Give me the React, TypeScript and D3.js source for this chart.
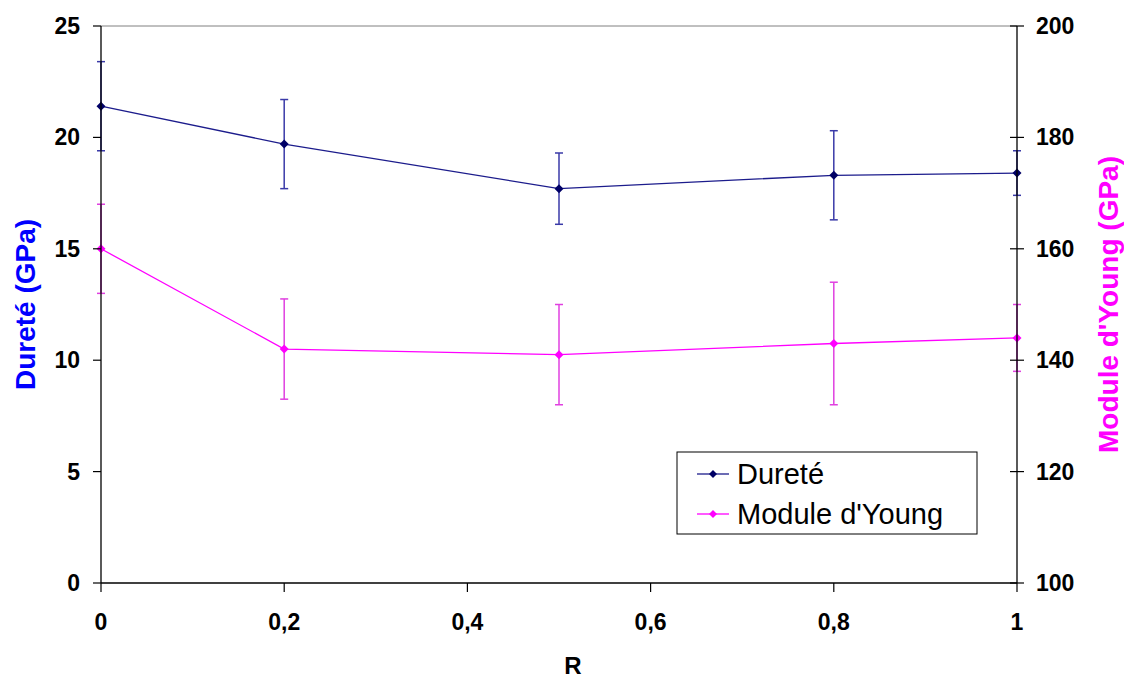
import React from "react";
import * as d3 from "d3";

const rValues = [0, 0.2, 0.5, 0.8, 1];
const durete = [21.4, 19.7, 17.7, 18.3, 18.4];
const dureteErr = [2.0, 2.0, 1.6, 2.0, 1.0];
const young = [160, 142, 141, 143, 144];
const youngErr = [8, 9, 9, 11, 6];
const xTicks = [0, 0.2, 0.4, 0.6, 0.8, 1];
const leftTicks = [0, 5, 10, 15, 20, 25];
const rightTicks = [100, 120, 140, 160, 180, 200];

const W = 1124, H = 680;
const L = 101, R = 1017, T = 26, B = 583;
const FONT = "'Liberation Sans', Arial, sans-serif";
const BLUE_LINE = "#1c1c8c";
const BLUE_MARK = "#000066";
const BLUE_ERR = "#3a3aa8";
const MAG = "#ff00ff";
const MAG_ERR = "#e040e0";

export default function App() {
  const x = d3.scaleLinear().domain([0, 1]).range([L, R]);
  const yL = d3.scaleLinear().domain([0, 25]).range([B, T]);
  const yR = d3.scaleLinear().domain([100, 200]).range([B, T]);
  const fmt = (v: number) => String(v).replace(".", ",");

  const lineL = d3.line<number>().x((_, i) => x(rValues[i])).y((d) => yL(d));
  const lineR = d3.line<number>().x((_, i) => x(rValues[i])).y((d) => yR(d));
  const diamond = (cx: number, cy: number, s: number) =>
    `M${cx},${cy - s}L${cx + s},${cy}L${cx},${cy + s}L${cx - s},${cy}Z`;

  const errBars = (
    vals: number[],
    errs: number[],
    y: d3.ScaleLinear<number, number>,
    color: string
  ) =>
    vals.map((v, i) => {
      const cx = x(rValues[i]);
      const y1 = y(v + errs[i]);
      const y2 = y(v - errs[i]);
      return (
        <g key={i} stroke={color} strokeWidth={1.5}>
          <line x1={cx} x2={cx} y1={y1} y2={y2} />
          <line x1={cx - 4} x2={cx + 4} y1={y1} y2={y1} />
          <line x1={cx - 4} x2={cx + 4} y1={y2} y2={y2} />
        </g>
      );
    });

  const midY = (T + B) / 2;

  return (
    <svg
      width={W}
      height={H}
      style={{ position: "absolute", left: 0, top: 0, background: "#fff" }}
      fontFamily={FONT}
    >
      <rect x={0} y={0} width={W} height={H} fill="#fff" />
      <line x1={L} x2={R} y1={T} y2={T} stroke="#808080" strokeWidth={1} />
      {errBars(young, youngErr, yR, MAG_ERR)}
      {errBars(durete, dureteErr, yL, BLUE_ERR)}
      <path d={lineR(young) || ""} fill="none" stroke={MAG} strokeWidth={1.3} />
      <path d={lineL(durete) || ""} fill="none" stroke={BLUE_LINE} strokeWidth={1.3} />
      {young.map((v, i) => (
        <path key={"m" + i} d={diamond(x(rValues[i]), yR(v), 4.5)} fill={MAG} />
      ))}
      {durete.map((v, i) => (
        <path key={"d" + i} d={diamond(x(rValues[i]), yL(v), 4.5)} fill={BLUE_MARK} />
      ))}
      <line x1={L} x2={L} y1={T} y2={B} stroke="#000" strokeWidth={1.3} />
      <line x1={R} x2={R} y1={T} y2={B} stroke="#000" strokeWidth={1.3} />
      <line x1={L} x2={R} y1={B} y2={B} stroke="#000" strokeWidth={1.3} />
      {leftTicks.map((t) => (
        <g key={"lt" + t}>
          <line x1={L - 8} x2={L} y1={yL(t)} y2={yL(t)} stroke="#000" strokeWidth={1.2} />
          <text
            x={80}
            y={yL(t)}
            textAnchor="end"
            dominantBaseline="central"
            fontSize={23}
            fontWeight="bold"
          >
            {t}
          </text>
        </g>
      ))}
      {rightTicks.map((t) => (
        <g key={"rt" + t}>
          <line x1={R - 7} x2={R + 7} y1={yR(t)} y2={yR(t)} stroke="#000" strokeWidth={1.2} />
          <text
            x={1036}
            y={yR(t)}
            textAnchor="start"
            dominantBaseline="central"
            fontSize={23}
            fontWeight="bold"
          >
            {t}
          </text>
        </g>
      ))}
      {xTicks.map((t) => (
        <g key={"xt" + t}>
          <line x1={x(t)} x2={x(t)} y1={B} y2={B + 9} stroke="#000" strokeWidth={1.2} />
          <text
            x={x(t)}
            y={622}
            textAnchor="middle"
            dominantBaseline="central"
            fontSize={23}
            fontWeight="bold"
          >
            {fmt(t)}
          </text>
        </g>
      ))}
      <text
        x={573}
        y={665}
        textAnchor="middle"
        dominantBaseline="central"
        fontSize={24}
        fontWeight="bold"
      >
        R
      </text>
      <text
        transform={`translate(25,${midY}) rotate(-90)`}
        textAnchor="middle"
        dominantBaseline="central"
        fontSize={28}
        fontWeight="bold"
        fill="#0000ff"
      >
        Dureté (GPa)
      </text>
      <text
        transform={`translate(1108,${midY}) rotate(-90)`}
        textAnchor="middle"
        dominantBaseline="central"
        fontSize={28}
        fontWeight="bold"
        fill={MAG}
      >
        Module d'Young (GPa)
      </text>
      <rect x={677} y={452} width={300} height={82} fill="#fff" stroke="#000" strokeWidth={1} />
      <g>
        <line x1={697} x2={729} y1={474} y2={474} stroke={BLUE_LINE} strokeWidth={1.3} />
        <path d={diamond(713, 474, 4)} fill={BLUE_MARK} />
        <text x={737} y={474} dominantBaseline="central" fontSize={29}>
          Dureté
        </text>
        <line x1={697} x2={729} y1={514} y2={514} stroke={MAG} strokeWidth={1.3} />
        <path d={diamond(713, 514, 4)} fill={MAG} />
        <text x={737} y={514} dominantBaseline="central" fontSize={29}>
          Module d'Young
        </text>
      </g>
    </svg>
  );
}
